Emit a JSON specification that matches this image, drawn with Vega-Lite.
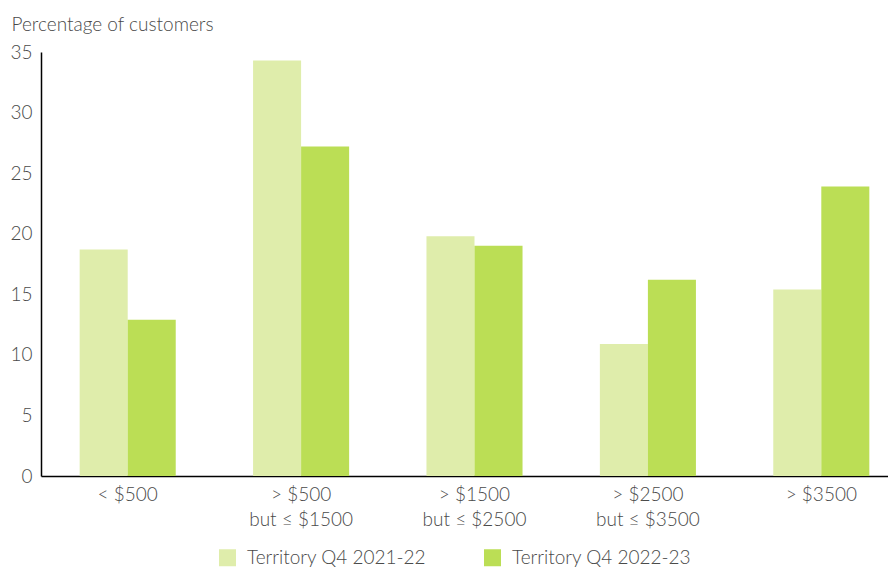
{
  "$schema": "https://vega.github.io/schema/vega-lite/v6.json",
  "width": 867,
  "height": 424,
  "autosize": {"type": "none"},
  "padding": {"left": 41, "top": 52, "right": 0, "bottom": 91},
  "background": "white",
  "config": {
    "view": {"stroke": null},
    "font": "Lato",
    "axis": {"labelFont": "Lato", "titleFont": "Lato", "labelFontWeight": 300, "titleFontWeight": 300},
    "legend": {"labelFont": "Lato", "labelFontWeight": 300}
  },
  "data": {
    "values": [
      {"band": "< $500", "series": "Territory Q4 2021-22", "value": 18.7},
      {"band": "< $500", "series": "Territory Q4 2022-23", "value": 12.9},
      {"band": "> $500|but ≤ $1500", "series": "Territory Q4 2021-22", "value": 34.3},
      {"band": "> $500|but ≤ $1500", "series": "Territory Q4 2022-23", "value": 27.2},
      {"band": "> $1500|but ≤ $2500", "series": "Territory Q4 2021-22", "value": 19.8},
      {"band": "> $1500|but ≤ $2500", "series": "Territory Q4 2022-23", "value": 19.0},
      {"band": "> $2500|but ≤ $3500", "series": "Territory Q4 2021-22", "value": 10.9},
      {"band": "> $2500|but ≤ $3500", "series": "Territory Q4 2022-23", "value": 16.2},
      {"band": "> $3500", "series": "Territory Q4 2021-22", "value": 15.4},
      {"band": "> $3500", "series": "Territory Q4 2022-23", "value": 23.9}
    ]
  },
  "mark": {"type": "bar"},
  "encoding": {
    "x": {
      "field": "band",
      "type": "nominal",
      "sort": null,
      "scale": {"paddingInner": 0.446, "paddingOuter": 0.223},
      "axis": {
        "title": null,
        "labelAngle": 0,
        "labelExpr": "split(datum.label, '|')",
        "labelLineHeight": 25,
        "labelFontSize": 19,
        "labelColor": "#4a4a4a",
        "labelBaseline": "top",
        "labelPadding": 9,
        "labelLimit": 300,
        "ticks": false,
        "domainColor": "#000000",
        "domainWidth": 1.5,
        "grid": false
      }
    },
    "xOffset": {"field": "series", "type": "nominal"},
    "y": {
      "field": "value",
      "type": "quantitative",
      "scale": {"domain": [0, 35], "nice": false},
      "axis": {
        "title": "Percentage of customers",
        "titleAngle": 0,
        "titleAlign": "left",
        "titleBaseline": "alphabetic",
        "titleX": -30,
        "titleY": -22,
        "titleFontSize": 19,
        "titleColor": "#4a4a4a",
        "values": [0, 5, 10, 15, 20, 25, 30, 35],
        "labelFontSize": 19,
        "labelColor": "#4a4a4a",
        "labelPadding": 9,
        "ticks": false,
        "grid": false,
        "domainColor": "#000000",
        "domainWidth": 1.5
      }
    },
    "color": {
      "field": "series",
      "type": "nominal",
      "scale": {"domain": ["Territory Q4 2021-22", "Territory Q4 2022-23"], "range": ["#dfedab", "#bbde55"]},
      "legend": {
        "title": null,
        "orient": "none",
        "direction": "horizontal",
        "legendX": 177,
        "legendY": 496,
        "symbolType": "square",
        "symbolSize": 289,
        "symbolStrokeWidth": 0,
        "labelFontSize": 19,
        "labelLimit": 400,
        "labelColor": "#4a4a4a",
        "labelOffset": 10,
        "columnPadding": 56
      }
    }
  }
}
